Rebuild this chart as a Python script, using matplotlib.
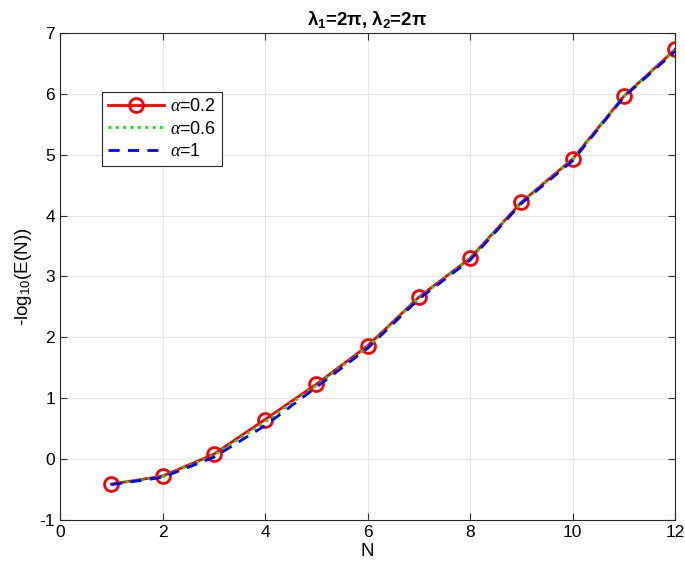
import numpy as np
import matplotlib.pyplot as plt

plt.rcParams['font.family'] = ['Liberation Sans', 'DejaVu Sans']
plt.rcParams['mathtext.fontset'] = 'custom'
plt.rcParams['mathtext.rm'] = 'Liberation Sans'
plt.rcParams['mathtext.it'] = 'Liberation Serif:italic'
plt.rcParams['mathtext.bf'] = 'Liberation Sans:bold'
plt.rcParams['axes.unicode_minus'] = False

N = [1, 2, 3, 4, 5, 6, 7, 8, 9, 10, 11, 12]
err_a02 = [-0.41, -0.28, 0.08, 0.65, 1.23, 1.86, 2.66, 3.30, 4.22, 4.93, 5.96, 6.73]
err_a06 = [-0.41, -0.29, 0.06, 0.61, 1.21, 1.84, 2.65, 3.29, 4.21, 4.92, 5.96, 6.72]
err_a1 = [-0.42, -0.30, 0.03, 0.55, 1.18, 1.82, 2.63, 3.27, 4.20, 4.90, 5.95, 6.70]

fig = plt.figure(figsize=(6.85, 5.75), dpi=100)
ax = fig.add_axes([0.0876, 0.0957, 0.898, 0.847])

ax.plot(N, err_a02, color='red', lw=2, marker='o', ms=10, mfc='none', mew=2,
        label=r'$\mathit{\alpha}$=0.2')
ax.plot(N, err_a06, color='#00ee00', lw=2, ls=':', label=r'$\mathit{\alpha}$=0.6')
ax.plot(N, err_a1, color='blue', lw=2, ls=(0, (4, 3)), label=r'$\mathit{\alpha}$=1')

ax.set_xlim(0, 12)
ax.set_ylim(-1, 7)
ax.set_xticks(range(0, 13, 2))
ax.set_yticks(range(-1, 8))
ax.grid(True, color='#e6e6e6', lw=0.8)
ax.set_axisbelow(True)
ax.tick_params(direction='in', top=True, right=True, labelsize=12.5, length=5, color='#333333')
for s in ax.spines.values():
    s.set_color('#262626')
    s.set_linewidth(0.8)

ax.set_xlabel('N', fontsize=13.5, labelpad=2)
ax.set_ylabel(r'-log$_{10}$(E(N))', fontsize=13.5, labelpad=4)
ax.set_title(r'$\mathbf{\lambda_1}$=2$\mathbf{\pi}$, $\mathbf{\lambda_2}$=2$\mathbf{\pi}$',
             fontsize=13.5, fontweight='bold')

leg = ax.legend(loc='upper left', bbox_to_anchor=(0.068, 0.879), borderaxespad=0,
                fontsize=13, fancybox=False, framealpha=1, edgecolor='#262626',
                handlelength=3.1, handletextpad=0.3, borderpad=0.35, labelspacing=0.3)
leg.get_frame().set_linewidth(0.8)

fig.savefig('out.png', dpi=100)
